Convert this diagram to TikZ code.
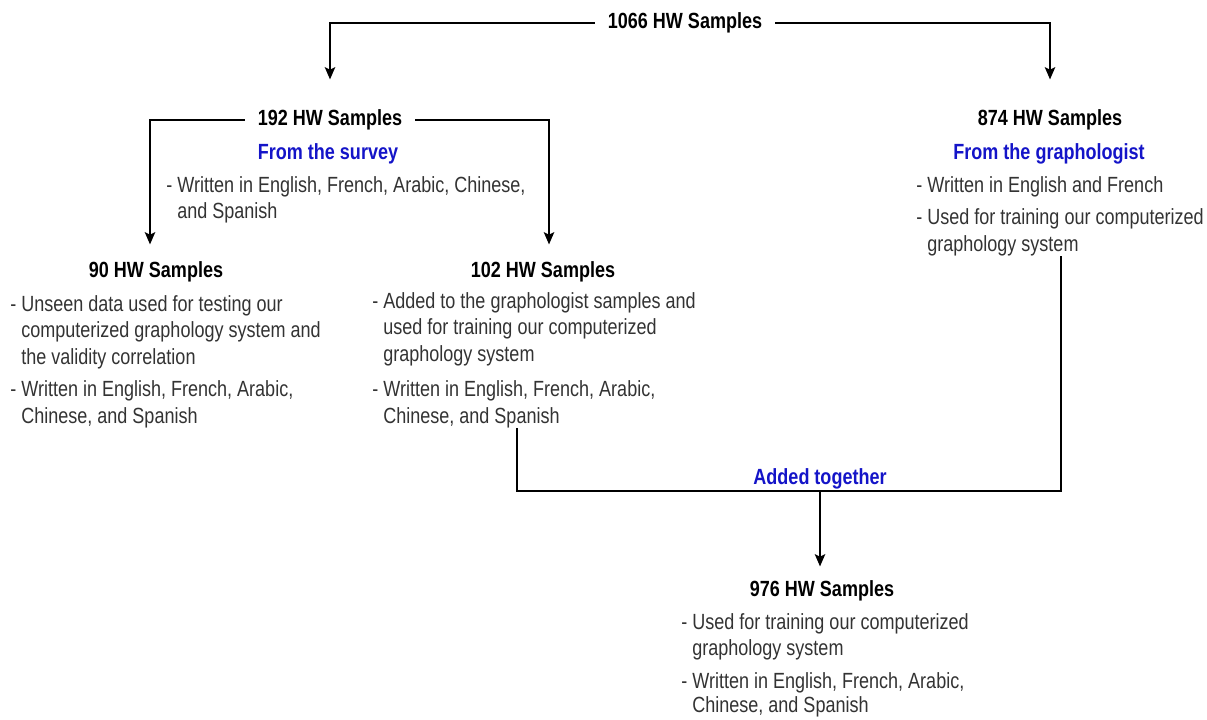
\documentclass[tikz,border=0pt]{standalone}
\usepackage{fontspec}
\setmainfont[FakeStretch=0.82]{Liberation Sans}
\usetikzlibrary{positioning,arrows.meta}

\definecolor{labelblue}{RGB}{20,20,200}
\definecolor{bodygray}{RGB}{51,51,51}
\newcommand{\diagfont}{\fontsize{12.5}{15.1}\selectfont}
\newcommand{\cont}{\phantom{- }}

\tikzset{
  countlabel/.style={font=\diagfont\bfseries, inner xsep=0.26cm, inner ysep=0pt},
  sourcelabel/.style={font=\diagfont\bfseries, text=labelblue, inner sep=0pt},
  notesbox/.style={font=\diagfont, align=left, anchor=north west,
    inner sep=0pt, text=bodygray},
  linkline/.style={line width=0.75pt},
}

\begin{document}
\begin{tikzpicture}[font=\diagfont,>={Stealth[length=7pt,width=6pt,inset=1.5pt]},x=1cm,y=1cm]
    \useasboundingbox (0,0) rectangle (24.14,14.38);

    % all samples
    \node[countlabel] (n1066) at (13.70,13.92) {1066 HW Samples};

    % survey part
    \node[countlabel] (n192) at (6.60,11.98) {192 HW Samples};
    \node[sourcelabel] (survey) at (6.56,11.30) {From the survey};
    \node[notesbox] (b192) at (3.32,10.86)
        {- Written in English, French, Arabic, Chinese,\\
         \cont and Spanish};

    % graphologist part
    \node[countlabel] (n874) at (21.00,11.98) {874 HW Samples};
    \node[sourcelabel] (grapho) at (20.98,11.30) {From the graphologist};
    \node[notesbox] (b874) at (18.32,10.86)
        {- Written in English and French\\[0.12cm]
         - Used for training our computerized\\
         \cont graphology system};

    % split of the survey samples
    \node[countlabel] (n90) at (3.12,8.94) {90 HW Samples};
    \node[notesbox] (b90) at (0.20,8.48)
        {- Unseen data used for testing our\\
         \cont computerized graphology system and\\
         \cont the validity correlation\\[0.12cm]
         - Written in English, French, Arabic,\\
         \cont Chinese, and Spanish};

    \node[countlabel] (n102) at (10.86,8.94) {102 HW Samples};
    \node[notesbox] (b102) at (7.44,8.54)
        {- Added to the graphologist samples and\\
         \cont used for training our computerized\\
         \cont graphology system\\[0.18cm]
         - Written in English, French, Arabic,\\
         \cont Chinese, and Spanish};

    % training set
    \node[countlabel] (n976) at (16.44,2.56) {976 HW Samples};
    \node[notesbox] (b976) at (13.62,2.12)
        {- Used for training our computerized\\
         \cont graphology system\\[0.12cm]
         - Written in English, French, Arabic,\\[-0.04cm]
         \cont Chinese, and Spanish};

    \draw[linkline,->,shorten >=0.6cm] (n1066.west) -| (n192.north);
    \draw[linkline,->,shorten >=0.6cm] (n1066.east) -| (n874.north);
    \draw[linkline,->,shorten >=0.34cm] (n192.west) -| ([xshift=-0.12cm]n90.north);
    \draw[linkline,->,shorten >=0.34cm] (n192.east) -| ([xshift=0.12cm]n102.north);

    \coordinate (merge) at (16.40,4.56);
    \draw[linkline] ([xshift=2.90cm]b102.south west) |- (merge)
        -| ([xshift=2.90cm]b874.south west);
    \node[sourcelabel] (added) at (16.40,4.80) {Added together};
    \draw[linkline,->,shorten >=0.28cm] (merge) -- (merge |- n976.north);
\end{tikzpicture}
\end{document}
